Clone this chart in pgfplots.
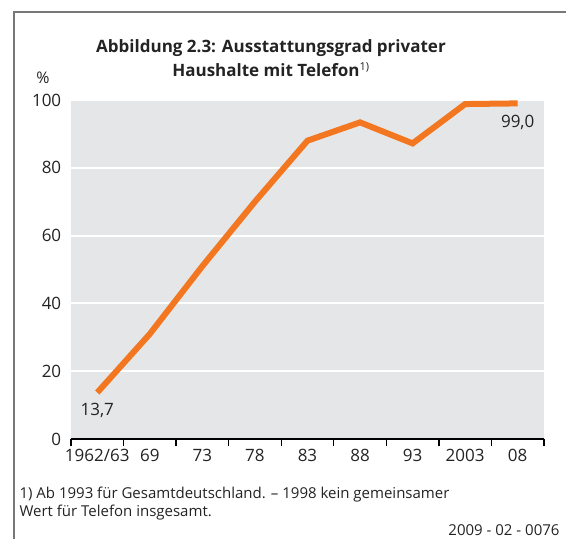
\documentclass[border=0pt]{standalone}
\usepackage{pgfplots}
\pgfplotsset{compat=1.18}
\usepackage{fontspec}
\setmainfont{Open Sans}
\definecolor{tel}{RGB}{243,119,33}
\definecolor{bg}{RGB}{229,230,232}
\definecolor{frame}{RGB}{120,120,120}
\definecolor{txt}{RGB}{35,35,35}
\begin{document}
\begin{tikzpicture}[x=1pt,y=1pt]
\path[use as bounding box] (0,0) rectangle (566,539);
\draw[frame, line width=2pt] (14,0) -- (14,527) -- (566,527);
\node[align=center, font=\fontsize{17}{24}\selectfont\bfseries, text=txt] at (271,481)
  {Abbildung 2.3: Ausstattungsgrad privater\\Haushalte mit Telefon\textsuperscript{\fontsize{11}{12}\selectfont\mdseries 1)}};
\node[font=\fontsize{16}{18}\selectfont, text=txt] at (43,461) {\%};
\begin{axis}[
  at={(71pt,100pt)}, anchor=south west,
  scale only axis, width=473pt, height=339pt,
  xmin=-0.5, xmax=8.5, ymin=0, ymax=100,
  axis lines=left, axis line style={-},
  x axis line style={black, line width=1.4pt},
  y axis line style={draw=none},
  axis background/.style={fill=bg},
  xtick={0,...,8},
  xticklabels={1962/63,69,73,78,83,88,93,2003,08},
  minor xtick={-0.5,0.5,...,8.5},
  major x tick style={draw=none},
  minor x tick style={black, line width=1.4pt},
  minor tick length=7pt,
  tick align=outside,
  ytick={0,20,40,60,80,100},
  ytick style={draw=none},
  ymajorgrids, grid style={white, line width=2pt},
  tick label style={font=\fontsize{17}{19}\selectfont, text=txt},
  /pgf/number format/assume math mode=true,
  yticklabel style={xshift=-2pt},
  xticklabel style={yshift=-2pt},
  clip=false,
]
\addplot[tel, line width=6pt, line join=miter] coordinates {
 (0,13.7) (1,31) (2,51) (3,70) (4,88) (5,93.4) (6,87.2) (7,98.8) (8,99.0)
};
\node[font=\fontsize{17}{19}\selectfont, text=txt] at (axis cs:0,8.5) {13,7};
\node[font=\fontsize{17}{19}\selectfont, text=txt] at (axis cs:8,93.5) {99,0};
\end{axis}
\node[anchor=north west, align=left, font=\fontsize{15}{18}\selectfont, text=txt] at (16,56)
  {1) Ab 1993 für Gesamtdeutschland. -- 1998 kein gemeinsamer\\Wert für Telefon insgesamt.};
\node[anchor=east, font=\fontsize{15}{16}\selectfont, text=txt] at (563,9) {2009 - 02 - 0076};
\end{tikzpicture}
\end{document}
